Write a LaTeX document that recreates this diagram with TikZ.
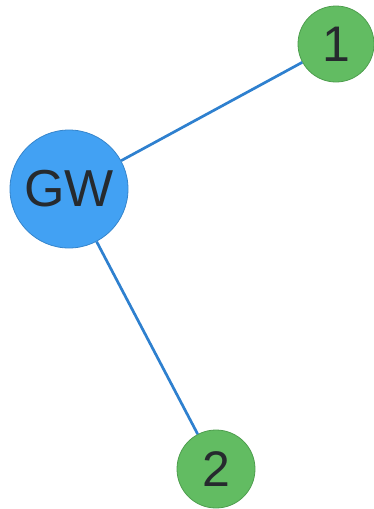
\documentclass[tikz,border=0pt]{standalone}
\usepackage{fontspec}
\setmainfont{Liberation Sans}
\definecolor{gwblue}{HTML}{42A1F3}
\definecolor{gwborder}{HTML}{3585CC}
\definecolor{ngreen}{HTML}{62BC62}
\definecolor{nborder}{HTML}{4E9E4E}
\definecolor{edgeblue}{HTML}{2E80CF}
\definecolor{txt}{HTML}{262A2E}
\begin{document}
\begin{tikzpicture}[x=1pt,y=-1pt,
  gwnode/.style={circle,fill=gwblue,draw=gwborder,line width=0.8pt,minimum size=118pt,inner sep=0pt,text=txt,font=\fontsize{52}{52}\selectfont},
  leaf/.style={circle,fill=ngreen,draw=nborder,line width=0.8pt,minimum size=#1,inner sep=0pt,text=txt,font=\fontsize{50}{50}\selectfont},
  link/.style={draw=edgeblue,line width=2.7pt}]
\useasboundingbox (0,0) rectangle (374,509);
\fill[white] (0,0) rectangle (374,509);
\node[gwnode] (gw) at (69,189) {GW};
\node[leaf=76pt] (n1) at (336,44) {1};
\node[leaf=78pt] (n2) at (216,469) {2};
\draw[link] (gw) -- (n1);
\draw[link] (gw) -- (n2);
\end{tikzpicture}
\end{document}
